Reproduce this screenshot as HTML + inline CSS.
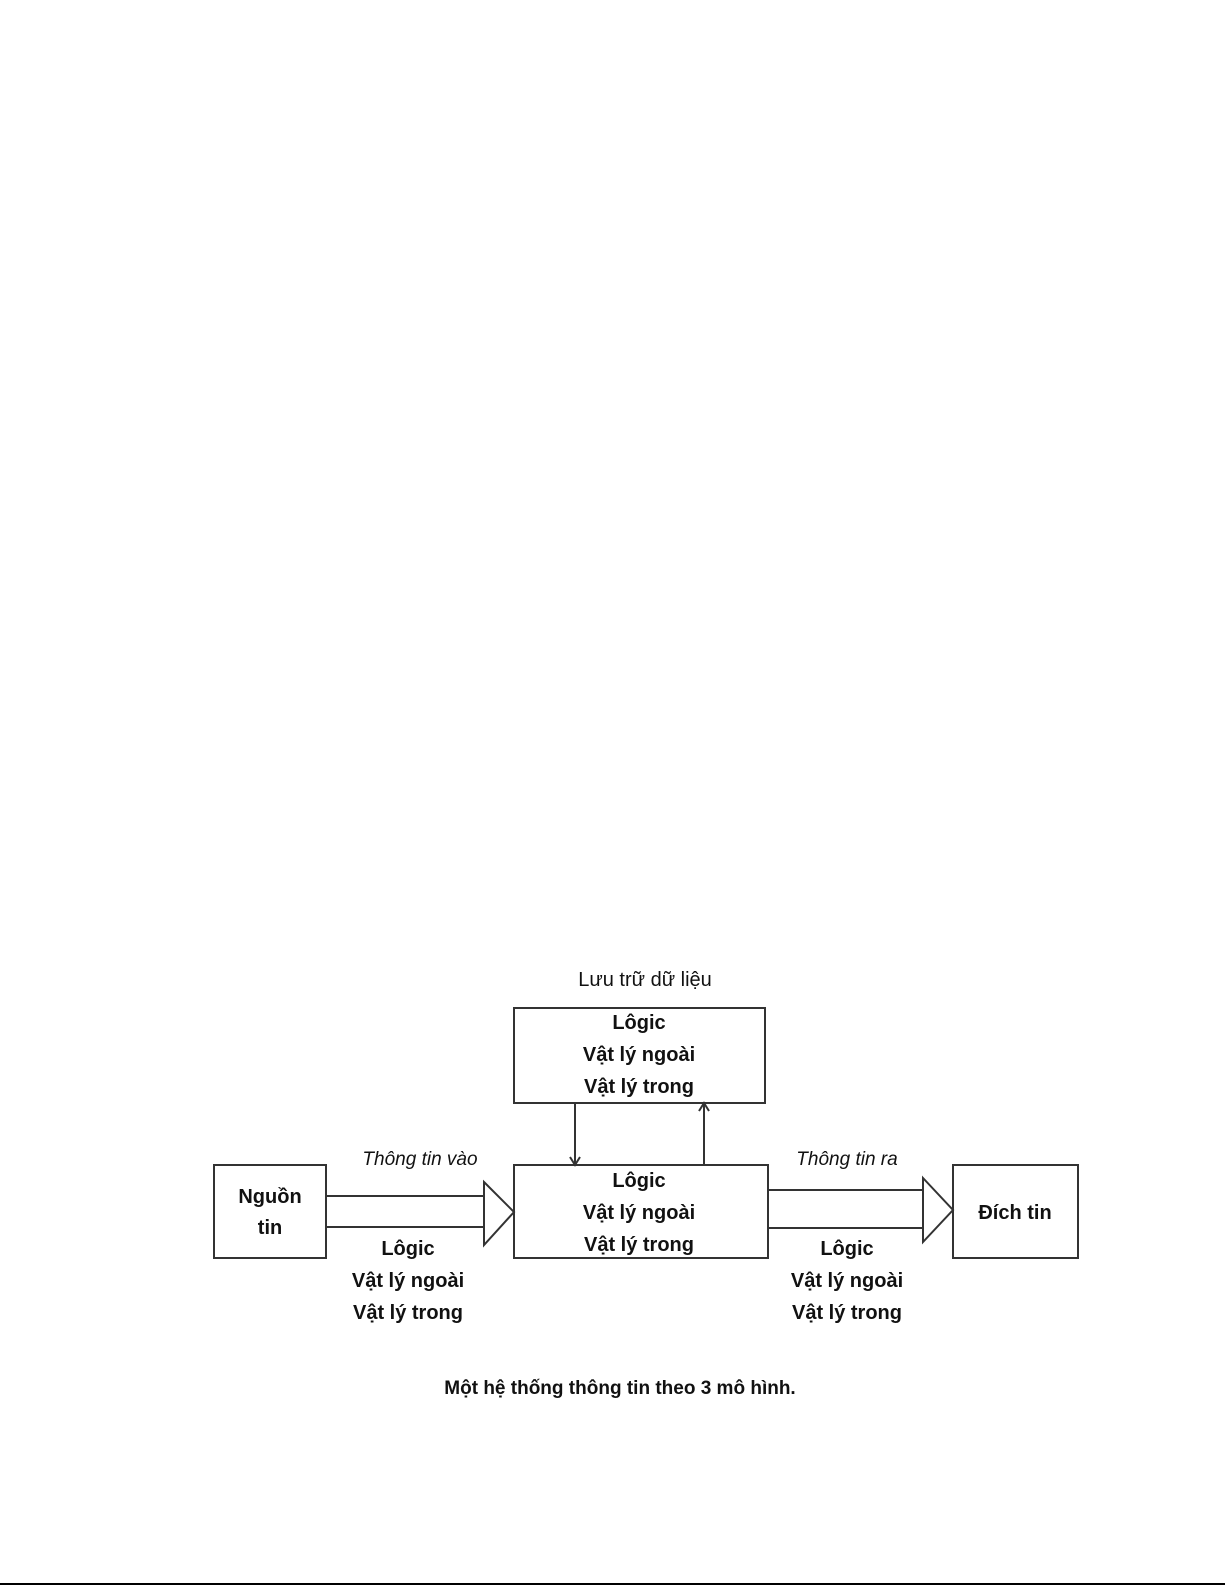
<!DOCTYPE html>
<html><head><meta charset="utf-8"><style>
body{margin:0;background:#fff}
svg{display:block}
text{font-family:"Liberation Sans",Arial,sans-serif;fill:#111}
.b{font-weight:bold;font-size:20px}
</style></head><body>
<svg width="1225" height="1585" viewBox="0 0 1225 1585" xmlns="http://www.w3.org/2000/svg">
<rect width="1225" height="1585" fill="#fff"/>
<line x1="0" y1="1584" x2="1225" y2="1584" stroke="#000" stroke-width="2"/>
<g fill="none" stroke="#333" stroke-width="2">
<rect x="214" y="1165" width="112" height="93"/>
<rect x="514" y="1008" width="251" height="95"/>
<rect x="514" y="1165" width="254" height="93"/>
<rect x="953" y="1165" width="125" height="93"/>
<line x1="326" y1="1196" x2="484" y2="1196"/>
<line x1="326" y1="1227" x2="484" y2="1227"/>
<polygon points="484,1182 514,1212 484,1245"/>
<line x1="768" y1="1190" x2="923" y2="1190"/>
<line x1="768" y1="1228" x2="923" y2="1228"/>
<polygon points="923,1178 953,1210 923,1242"/>
<line x1="575" y1="1103" x2="575" y2="1165"/>
<polyline points="570,1157 575,1165 580,1157"/>
<line x1="704" y1="1165" x2="704" y2="1103"/>
<polyline points="699,1111 704,1103 709,1111"/>
</g>
<text x="645" y="986" text-anchor="middle" font-size="20" style="font-weight:300">Lưu trữ dữ liệu</text>
<g class="b" text-anchor="middle">
<text x="639" y="1029" class="b">Lôgic</text>
<text x="639" y="1061" class="b">Vật lý ngoài</text>
<text x="639" y="1093" class="b">Vật lý trong</text>
<text x="639" y="1187" class="b">Lôgic</text>
<text x="639" y="1219" class="b">Vật lý ngoài</text>
<text x="639" y="1251" class="b">Vật lý trong</text>
<text x="270" y="1203" class="b">Nguồn</text>
<text x="270" y="1234" class="b">tin</text>
<text x="1015" y="1219" class="b">Đích tin</text>
<text x="408" y="1255" class="b">Lôgic</text>
<text x="408" y="1287" class="b">Vật lý ngoài</text>
<text x="408" y="1319" class="b">Vật lý trong</text>
<text x="847" y="1255" class="b">Lôgic</text>
<text x="847" y="1287" class="b">Vật lý ngoài</text>
<text x="847" y="1319" class="b">Vật lý trong</text>
</g>
<text x="420" y="1165" text-anchor="middle" font-size="19" font-style="italic" fill="#333">Thông tin vào</text>
<text x="847" y="1165" text-anchor="middle" font-size="19" font-style="italic" fill="#333">Thông tin ra</text>
<text x="620" y="1394" text-anchor="middle" font-size="19" font-weight="bold">Một hệ thống thông tin theo 3 mô hình.</text>
</svg>
</body></html>
